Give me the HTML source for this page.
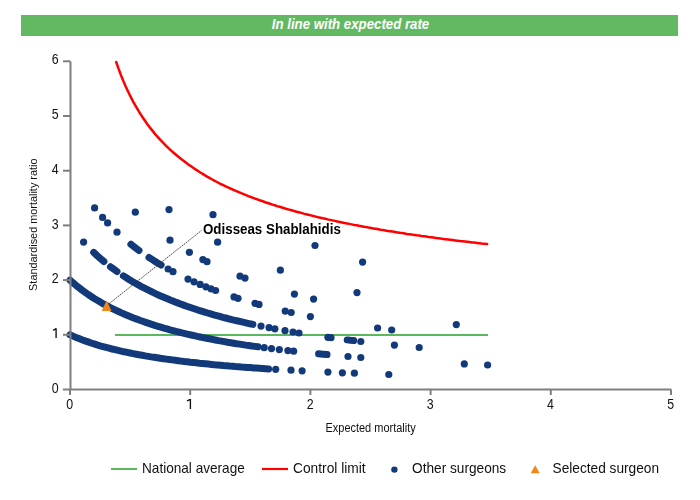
<!DOCTYPE html>
<html><head><meta charset="utf-8"><style>
html,body{margin:0;padding:0;background:#fff;width:700px;height:500px;overflow:hidden}
body{position:relative;font-family:"Liberation Sans",sans-serif}
.bar{position:absolute;left:21px;top:15px;width:657px;height:21px;background:#62b962}
.title{position:absolute;left:20.4px;top:13.6px;width:661px;height:21px;line-height:21px;text-align:center;color:#fff;font-weight:bold;font-style:italic;font-size:14.5px;transform:scaleX(0.913);transform-origin:330.5px 0}
svg{position:absolute;left:0;top:0;will-change:transform}
text{font-family:"Liberation Sans",sans-serif}
</style></head><body>
<div class="bar"></div><div class="title">In line with expected rate</div>
<svg width="700" height="500" viewBox="0 0 700 500">
<g font-size="14" fill="#111">
<text x="58.6" y="392.6" text-anchor="end" textLength="6.9" lengthAdjust="spacingAndGlyphs">0</text>
<text x="58.6" y="283.2" text-anchor="end" textLength="6.9" lengthAdjust="spacingAndGlyphs">2</text>
<text x="58.6" y="228.5" text-anchor="end" textLength="6.9" lengthAdjust="spacingAndGlyphs">3</text>
<text x="58.6" y="173.8" text-anchor="end" textLength="6.9" lengthAdjust="spacingAndGlyphs">4</text>
<text x="58.6" y="119.1" text-anchor="end" textLength="6.9" lengthAdjust="spacingAndGlyphs">5</text>
<text x="58.6" y="64.4" text-anchor="end" textLength="6.9" lengthAdjust="spacingAndGlyphs">6</text>
<text x="69.7" y="409" text-anchor="middle" textLength="6.9" lengthAdjust="spacingAndGlyphs">0</text>
<text x="310.1" y="409" text-anchor="middle" textLength="6.9" lengthAdjust="spacingAndGlyphs">2</text>
<text x="430.3" y="409" text-anchor="middle" textLength="6.9" lengthAdjust="spacingAndGlyphs">3</text>
<text x="550.5" y="409" text-anchor="middle" textLength="6.9" lengthAdjust="spacingAndGlyphs">4</text>
<text x="670.7" y="409" text-anchor="middle" textLength="6.9" lengthAdjust="spacingAndGlyphs">5</text>
</g>
<g stroke="#111" stroke-width="1.35" fill="none"><path d="M53.2 330.3 L56.1 328.6 M56.1 328.2 V338"/><path d="M187.0 400.8 L190.4 399.4 M190.4 399.0 V408.9"/></g>
<text x="370.6" y="432.2" font-size="12" text-anchor="middle" textLength="90.2" lengthAdjust="spacingAndGlyphs" fill="#111">Expected mortality</text>
<text transform="translate(37 224.7) rotate(-90)" font-size="11.6" text-anchor="middle" textLength="132.4" lengthAdjust="spacingAndGlyphs" fill="#111">Standardised mortality ratio</text>
<path d="M116.2 62.0 L118.6 68.9 L121.0 75.2 L123.4 81.1 L125.8 86.7 L128.2 91.8 L130.6 96.7 L133.0 101.3 L135.4 105.6 L137.8 109.7 L140.2 113.6 L142.6 117.3 L145.0 120.8 L147.4 124.2 L149.8 127.4 L152.2 130.4 L154.6 133.4 L157.0 136.2 L159.4 138.8 L161.8 141.4 L164.2 143.9 L166.6 146.3 L169.0 148.6 L171.4 150.8 L173.9 153.0 L176.3 155.0 L178.7 157.0 L181.1 159.0 L183.5 160.8 L185.9 162.6 L188.3 164.4 L190.7 166.1 L193.1 167.8 L195.5 169.4 L197.9 170.9 L200.3 172.5 L202.7 173.9 L205.1 175.4 L207.5 176.8 L209.9 178.1 L212.3 179.5 L214.7 180.8 L217.1 182.0 L219.5 183.3 L221.9 184.5 L224.3 185.6 L226.7 186.8 L229.1 187.9 L231.5 189.0 L234.0 190.1 L236.4 191.1 L238.8 192.2 L241.2 193.2 L243.6 194.1 L246.0 195.1 L248.4 196.1 L250.8 197.0 L253.2 197.9 L255.6 198.8 L258.0 199.6 L260.4 200.5 L262.8 201.3 L265.2 202.2 L267.6 203.0 L270.0 203.8 L272.4 204.6 L274.8 205.3 L277.2 206.1 L279.6 206.8 L282.0 207.5 L284.4 208.3 L286.8 209.0 L289.2 209.6 L291.6 210.3 L294.1 211.0 L296.5 211.7 L298.9 212.3 L301.3 212.9 L303.7 213.6 L306.1 214.2 L308.5 214.8 L310.9 215.4 L313.3 216.0 L315.7 216.6 L318.1 217.2 L320.5 217.7 L322.9 218.3 L325.3 218.8 L327.7 219.4 L330.1 219.9 L332.5 220.4 L334.9 220.9 L337.3 221.5 L339.7 222.0 L342.1 222.5 L344.5 223.0 L346.9 223.4 L349.3 223.9 L351.7 224.4 L354.2 224.9 L356.6 225.3 L359.0 225.8 L361.4 226.2 L363.8 226.7 L366.2 227.1 L368.6 227.6 L371.0 228.0 L373.4 228.4 L375.8 228.8 L378.2 229.2 L380.6 229.7 L383.0 230.1 L385.4 230.5 L387.8 230.9 L390.2 231.2 L392.6 231.6 L395.0 232.0 L397.4 232.4 L399.8 232.8 L402.2 233.1 L404.6 233.5 L407.0 233.9 L409.4 234.2 L411.8 234.6 L414.3 234.9 L416.7 235.3 L419.1 235.6 L421.5 236.0 L423.9 236.3 L426.3 236.6 L428.7 237.0 L431.1 237.3 L433.5 237.6 L435.9 237.9 L438.3 238.2 L440.7 238.6 L443.1 238.9 L445.5 239.2 L447.9 239.5 L450.3 239.8 L452.7 240.1 L455.1 240.4 L457.5 240.7 L459.9 241.0 L462.3 241.2 L464.7 241.5 L467.1 241.8 L469.5 242.1 L471.9 242.4 L474.4 242.6 L476.8 242.9 L479.2 243.2 L481.6 243.5 L484.0 243.7 L486.4 244.0 L487.1 244.1" fill="none" stroke="#ff0000" stroke-width="2.5" stroke-linecap="round"/>
<line x1="115.0" y1="335" x2="488" y2="335" stroke="#5cb85c" stroke-width="2"/>
<g stroke="#123a7a" stroke-width="7.0" stroke-linecap="round" stroke-linejoin="round" fill="none">
<path d="M70.0 334.8 L73.0 336.1 L76.0 337.4 L79.0 338.6 L82.0 339.8 L85.0 340.9 L88.1 341.9 L91.1 343.0 L94.1 343.9 L97.1 344.9 L100.1 345.8 L103.1 346.6 L106.1 347.4 L109.1 348.2 L112.1 349.0 L115.1 349.7 L118.1 350.4 L121.1 351.1 L124.2 351.8 L127.2 352.4 L130.2 353.0 L133.2 353.6 L136.2 354.2 L139.2 354.8 L142.2 355.3 L145.2 355.9 L148.2 356.4 L151.2 356.9 L154.2 357.3 L157.3 357.8 L160.3 358.3 L163.3 358.7 L166.3 359.1 L169.3 359.5 L172.3 359.9 L175.3 360.3 L178.3 360.7 L181.3 361.1 L184.3 361.5 L187.3 361.8 L190.3 362.2 L193.4 362.5 L196.4 362.8 L199.4 363.2 L202.4 363.5 L205.4 363.8 L208.4 364.1 L211.4 364.4 L214.4 364.7 L217.4 364.9 L220.4 365.2 L223.4 365.5 L226.4 365.7 L229.5 366.0 L232.5 366.2 L235.5 366.5 L238.5 366.7 L241.5 367.0 L244.5 367.2 L247.5 367.4 L250.5 367.6 L253.5 367.9 L256.5 368.1 L259.5 368.3 L262.6 368.5 L265.6 368.7 L268.6 368.9"/>
<path d="M70.0 280.1 L73.0 282.8 L76.1 285.4 L79.1 287.8 L82.1 290.1 L85.2 292.3 L88.2 294.5 L91.2 296.5 L94.2 298.5 L97.3 300.3 L100.3 302.1 L103.3 303.9 L106.4 305.5 L109.4 307.1 L112.4 308.6 L115.5 310.1 L118.5 311.5 L121.5 312.9 L124.5 314.2 L127.6 315.5 L130.6 316.8 L133.6 318.0 L136.7 319.1 L139.7 320.3 L142.7 321.3 L145.8 322.4 L148.8 323.4 L151.8 324.4 L154.8 325.4 L157.9 326.3 L160.9 327.2 L163.9 328.1 L167.0 328.9 L170.0 329.8 L173.0 330.6 L176.1 331.4 L179.1 332.1 L182.1 332.9 L185.1 333.6 L188.2 334.3 L191.2 335.0 L194.2 335.7 L197.3 336.4 L200.3 337.0 L203.3 337.6 L206.4 338.2 L209.4 338.8 L212.4 339.4 L215.4 340.0 L218.5 340.6 L221.5 341.1 L224.5 341.6 L227.6 342.2 L230.6 342.7 L233.6 343.2 L236.7 343.7 L239.7 344.1 L242.7 344.6 L245.8 345.1 L248.8 345.5 L251.8 346.0 L254.8 346.4 L257.9 346.8"/>
<path d="M93.7 252.4 L97.1 255.6 L100.5 258.6 L103.9 261.5"/>
<path d="M110.5 266.8 L113.8 269.2 L117.0 271.5"/>
<path d="M123.4 275.9 L126.4 277.8 L129.4 279.7 L132.4 281.5 L135.4 283.2 L138.4 284.9 L141.4 286.6 L144.5 288.2 L147.5 289.7 L150.5 291.2 L153.5 292.7 L156.5 294.1 L159.5 295.5 L162.5 296.8 L165.6 298.1 L168.6 299.3 L171.6 300.6 L174.6 301.8 L177.6 302.9 L180.6 304.0 L183.6 305.1 L186.6 306.2 L189.7 307.3 L192.7 308.3 L195.7 309.3 L198.7 310.3 L201.7 311.2 L204.7 312.1 L207.7 313.0 L210.8 313.9 L213.8 314.8 L216.8 315.6 L219.8 316.4 L222.8 317.3 L225.8 318.0 L228.8 318.8 L231.9 319.6 L234.9 320.3 L237.9 321.0 L240.9 321.7 L243.9 322.4 L246.9 323.1 L249.9 323.8 L252.9 324.4"/>
<path d="M130.9 244.3 L135.0 247.5 L139.0 250.5"/>
<path d="M149.0 257.5 L152.0 259.4 L155.0 261.4 L158.1 263.2 L161.1 265.0"/>
<path d="M347.2 339.9 L350.4 340.3 L353.6 340.6"/>
<path d="M318.6 353.8 L322.8 354.2 L327.0 354.6"/>
</g>
<g fill="#123a7a">
<circle cx="275.7" cy="369.3" r="3.6"/>
<circle cx="291.0" cy="370.2" r="3.6"/>
<circle cx="302.1" cy="370.8" r="3.6"/>
<circle cx="327.9" cy="372.1" r="3.6"/>
<circle cx="342.4" cy="372.8" r="3.6"/>
<circle cx="354.4" cy="373.2" r="3.6"/>
<circle cx="388.8" cy="374.5" r="3.6"/>
<circle cx="264.2" cy="347.7" r="3.6"/>
<circle cx="271.5" cy="348.6" r="3.6"/>
<circle cx="279.3" cy="349.6" r="3.6"/>
<circle cx="348.0" cy="356.5" r="3.6"/>
<circle cx="360.8" cy="357.5" r="3.6"/>
<circle cx="464.3" cy="363.9" r="3.6"/>
<circle cx="487.6" cy="365.0" r="3.6"/>
<circle cx="83.6" cy="242.1" r="3.6"/>
<circle cx="261.0" cy="326.1" r="3.6"/>
<circle cx="285.0" cy="330.7" r="3.6"/>
<circle cx="360.8" cy="341.5" r="3.6"/>
<circle cx="394.4" cy="345.1" r="3.6"/>
<circle cx="419.2" cy="347.5" r="3.6"/>
<circle cx="94.6" cy="207.9" r="3.6"/>
<circle cx="102.6" cy="217.4" r="3.6"/>
<circle cx="107.6" cy="222.9" r="3.6"/>
<circle cx="117.0" cy="232.2" r="3.6"/>
<circle cx="188.0" cy="279.1" r="3.6"/>
<circle cx="215.6" cy="290.5" r="3.6"/>
<circle cx="310.4" cy="316.6" r="3.6"/>
<circle cx="377.6" cy="328.0" r="3.6"/>
<circle cx="391.7" cy="330.0" r="3.6"/>
<circle cx="135.3" cy="212.2" r="3.6"/>
<circle cx="170.0" cy="240.2" r="3.6"/>
<circle cx="189.4" cy="252.3" r="3.6"/>
<circle cx="294.4" cy="294.1" r="3.6"/>
<circle cx="313.6" cy="299.1" r="3.6"/>
<circle cx="456.3" cy="324.6" r="3.6"/>
<circle cx="169.0" cy="209.6" r="3.6"/>
<circle cx="217.6" cy="242.2" r="3.6"/>
<circle cx="280.4" cy="270.2" r="3.6"/>
<circle cx="357.0" cy="292.6" r="3.6"/>
<circle cx="213.0" cy="214.7" r="3.6"/>
<circle cx="315.0" cy="245.5" r="3.6"/>
<circle cx="362.6" cy="262.1" r="3.6"/>
<circle cx="168.1" cy="269.0" r="3.6"/>
<circle cx="173.0" cy="271.7" r="3.6"/>
<circle cx="194.0" cy="281.8" r="3.6"/>
<circle cx="200.1" cy="284.4" r="3.6"/>
<circle cx="205.9" cy="286.8" r="3.6"/>
<circle cx="211.0" cy="288.8" r="3.6"/>
<circle cx="234.0" cy="296.9" r="3.6"/>
<circle cx="238.0" cy="298.3" r="3.6"/>
<circle cx="255.0" cy="303.3" r="3.6"/>
<circle cx="259.0" cy="304.4" r="3.6"/>
<circle cx="285.2" cy="311.1" r="3.6"/>
<circle cx="291.2" cy="312.5" r="3.6"/>
<circle cx="202.9" cy="259.6" r="3.6"/>
<circle cx="207.0" cy="261.7" r="3.6"/>
<circle cx="240.0" cy="276.2" r="3.6"/>
<circle cx="245.0" cy="278.1" r="3.6"/>
<circle cx="269.1" cy="327.7" r="3.6"/>
<circle cx="274.9" cy="328.8" r="3.6"/>
<circle cx="293.0" cy="332.0" r="3.6"/>
<circle cx="299.0" cy="333.0" r="3.6"/>
<circle cx="327.9" cy="337.3" r="3.6"/>
<circle cx="331.0" cy="337.7" r="3.6"/>
<circle cx="287.9" cy="350.6" r="3.6"/>
<circle cx="293.6" cy="351.2" r="3.6"/>
</g>
<g stroke="#7f7f7f" stroke-width="2" fill="none">
<path d="M70.5 61.4 V389.5 H671.2"/>
<line x1="63" y1="389.5" x2="70.5" y2="389.5"/>
<line x1="63" y1="334.8" x2="70.5" y2="334.8"/>
<line x1="63" y1="280.1" x2="70.5" y2="280.1"/>
<line x1="63" y1="225.4" x2="70.5" y2="225.4"/>
<line x1="63" y1="170.7" x2="70.5" y2="170.7"/>
<line x1="63" y1="116.0" x2="70.5" y2="116.0"/>
<line x1="63" y1="61.3" x2="70.5" y2="61.3"/>
<line x1="70.0" y1="389.5" x2="70.0" y2="395"/>
<line x1="190.2" y1="389.5" x2="190.2" y2="395"/>
<line x1="310.4" y1="389.5" x2="310.4" y2="395"/>
<line x1="430.6" y1="389.5" x2="430.6" y2="395"/>
<line x1="550.8" y1="389.5" x2="550.8" y2="395"/>
<line x1="671.0" y1="389.5" x2="671.0" y2="395"/>
</g>
<line x1="108.6" y1="304" x2="201.5" y2="230.5" stroke="#333" stroke-width="0.9" stroke-dasharray="1.6 0.8"/>
<path d="M106.6 300.5 L111.6 311.0 L101.6 311.0 Z" fill="#f0871a"/>
<text x="203" y="233.8" font-size="14.4" textLength="137.8" lengthAdjust="spacingAndGlyphs" font-weight="bold" fill="#000">Odisseas Shablahidis</text>
<line x1="111" y1="469" x2="137" y2="469" stroke="#5cb85c" stroke-width="2"/>
<line x1="262" y1="469" x2="288" y2="469" stroke="#ff0000" stroke-width="2.2"/>
<circle cx="394.4" cy="469.6" r="3.2" fill="#123a7a"/>
<path d="M535.2 465.3 L539.7 473.2 L530.7 473.2 Z" fill="#f0871a"/>
<g font-size="14.4" fill="#111">
<text x="142" y="473.3" textLength="102.8" lengthAdjust="spacingAndGlyphs">National average</text>
<text x="293" y="473.3" textLength="72.6" lengthAdjust="spacingAndGlyphs">Control limit</text>
<text x="412" y="473.3" textLength="94.2" lengthAdjust="spacingAndGlyphs">Other surgeons</text>
<text x="552.5" y="473.3" textLength="106.6" lengthAdjust="spacingAndGlyphs">Selected surgeon</text>
</g>
</svg>
</body></html>
